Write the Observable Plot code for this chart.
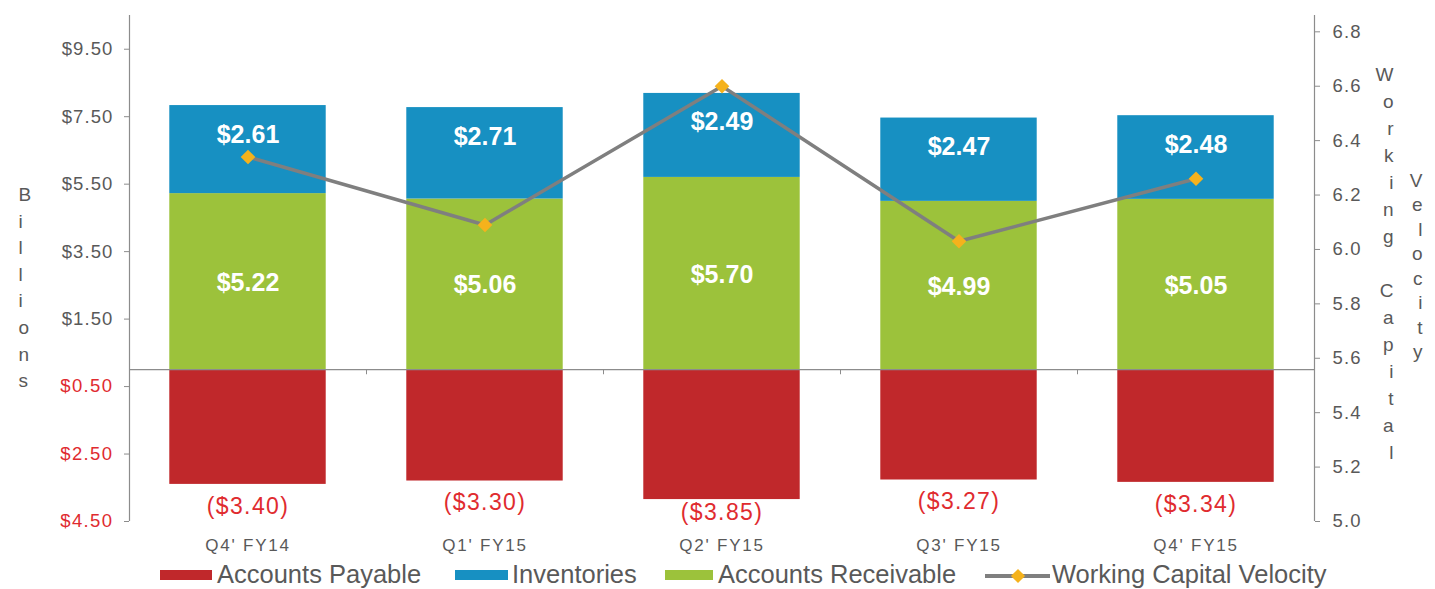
<!DOCTYPE html>
<html><head><meta charset="utf-8">
<script src="https://cdn.jsdelivr.net/npm/d3@7"></script>
<script src="https://cdn.jsdelivr.net/npm/@observablehq/plot@0.6"></script>
<style>
body{margin:0;background:#fff;font-family:"Liberation Sans",Arial,sans-serif;}
#chart{width:1435px;height:589px;overflow:hidden;position:relative;background:#fff}
#legend{position:relative;height:29px;font-size:25.5px;color:#595959}
#legend .t{position:absolute;top:1px;line-height:26px;white-space:nowrap}
#legend .sw{position:absolute;top:10px;height:10px}
#legend .ln{position:absolute;top:14px;height:3.5px;background:#7f7f7f}
#legend .dm{position:absolute;top:10.5px;width:10px;height:10px;background:#f5b21c;transform:rotate(45deg)}
</style></head><body><div id="chart"></div>
<script>
// ---- data ----
const quarters = ["Q4' FY14", "Q1' FY15", "Q2' FY15", "Q3' FY15", "Q4' FY15"];
const accountsPayable = [-3.40, -3.30, -3.85, -3.27, -3.34];
const inventories = [2.61, 2.71, 2.49, 2.47, 2.48];
const accountsReceivable = [5.22, 5.06, 5.70, 4.99, 5.05];
const velocity = [6.34, 6.09, 6.60, 6.03, 6.26];
const leftTicksPos = [9.5, 7.5, 5.5, 3.5, 1.5];
const leftTicksNeg = [-0.5, -2.5, -4.5];
const rightTicks = [5.0, 5.2, 5.4, 5.6, 5.8, 6.0, 6.2, 6.4, 6.6, 6.8];
const leftDomain = [-4.5, 10.5];
const rightDomain = [5.0, 6.86];

// ---- styles ----
const C = {ap: "#c0282b", inv: "#1790c2", ar: "#9cc23b", line: "#7f7f7f", dot: "#f5b21c",
           axis: "#8c8c8c", text: "#595959", red: "#e02b2f"};
const halfBar = 0.33;

const toLeft = d3.scaleLinear().domain(rightDomain).range(leftDomain);
const xDomain = [-0.5, quarters.length - 0.5];

const segs = [];
quarters.forEach((q, i) => {
  segs.push({i, series: "ap", y1: 0, y2: accountsPayable[i]});
  segs.push({i, series: "ar", y1: 0, y2: accountsReceivable[i]});
  segs.push({i, series: "inv", y1: accountsReceivable[i], y2: accountsReceivable[i] + inventories[i]});
});
const rows = quarters.map((q, i) => ({i, q, ap: accountsPayable[i], inv: inventories[i], ar: accountsReceivable[i], v: velocity[i]}));
const money = d => "$" + Math.abs(d).toFixed(2);
const vert = s => s.split("").join("\n");

const plot = Plot.plot({
  width: 1435, height: 560,
  marginLeft: 129, marginRight: 121, marginTop: 15, marginBottom: 39,
  x: {domain: xDomain},
  y: {domain: leftDomain},
  style: {fontFamily: "Liberation Sans, Arial, sans-serif", background: "white", overflow: "visible"},
  marks: [
    Plot.rect(segs, {x1: d => d.i - halfBar, x2: d => d.i + halfBar, y1: "y1", y2: "y2", fill: d => C[d.series]}),
    Plot.ruleY([0], {stroke: C.axis, strokeWidth: 1.2}),
    Plot.ruleX(xDomain, {stroke: C.axis, strokeWidth: 1.2}),
    Plot.ruleX(d3.range(1, quarters.length).map(i => i - 0.5), {y1: 0, y2: -0.15, stroke: C.axis}),
    Plot.axisY(leftTicksPos, {anchor: "left", tickFormat: money, tickSize: 5, tickPadding: 11, fontSize: 18.5, fill: C.text, stroke: C.axis, label: null}),
    Plot.axisY(leftTicksNeg, {anchor: "left", tickFormat: money, tickSize: 5, tickPadding: 11, fontSize: 18.5, fill: C.red, stroke: C.axis, label: null}),
    Plot.axisY(rightTicks.map(toLeft), {anchor: "right", tickFormat: d => toLeft.invert(d).toFixed(1), tickSize: 5, tickPadding: 13, fontSize: 18.5, fill: C.text, stroke: C.axis, label: null}),
    Plot.axisX(d3.range(quarters.length), {anchor: "bottom", tickFormat: i => quarters[i], tickSize: 0, tickPadding: 17, fontSize: 17, fill: C.text, label: null}),
    Plot.line(rows, {x: "i", y: d => toLeft(d.v), stroke: C.line, strokeWidth: 3.5}),
    Plot.dot(rows, {x: "i", y: d => toLeft(d.v), symbol: "diamond2", r: 6.6, fill: C.dot}),
    Plot.text(rows, {x: "i", y: d => d.ar / 2, text: d => money(d.ar), fill: "white", fontWeight: "bold", fontSize: 25, dy: 1}),
    Plot.text(rows, {x: "i", y: d => d.ar + d.inv, text: d => money(d.inv), fill: "white", fontWeight: "bold", fontSize: 25, dy: 29}),
    Plot.text(rows, {x: "i", y: d => Math.max(d.ap - 0.65, -4.25), text: d => "(" + money(d.ap) + ")", fill: C.red, fontSize: 23}),
    Plot.text([vert("Billions")], {frameAnchor: "left", dx: -111, dy: 17, fontSize: 19, lineHeight: 26.6 / 19, fill: C.text}),
    Plot.text([vert("Working Capital")], {frameAnchor: "right", dx: 79, dy: -7, fontSize: 19, lineHeight: 27 / 19, fill: C.text}),
    Plot.text([vert("Velocity")], {frameAnchor: "right", dx: 108, dy: -4, fontSize: 19, lineHeight: 24.5 / 19, fill: C.text})
  ]
});
const svg = d3.select(plot);
svg.selectAll("g[aria-label='y-axis tick label'] text").style("letter-spacing", "1.1px");
svg.selectAll("g[aria-label='x-axis tick label'] text").style("letter-spacing", "1.8px");
svg.selectAll(`g[fill='${C.red}'] text`).style("letter-spacing", "1.4px");
document.getElementById("chart").appendChild(plot);

// ---- legend ----
const legendItems = [
  {label: "Accounts Payable", color: C.ap, sx: 160, sw: 52, tx: 217},
  {label: "Inventories", color: C.inv, sx: 455, sw: 53, tx: 512},
  {label: "Accounts Receivable", color: C.ar, sx: 665, sw: 48, tx: 718},
  {label: "Working Capital Velocity", line: true, sx: 985, sw: 65, tx: 1052}
];
const lg = document.createElement("div");
lg.id = "legend";
legendItems.forEach(it => {
  if (it.line) {
    const l = document.createElement("div"); l.className = "ln";
    l.style.left = it.sx + "px"; l.style.width = it.sw + "px"; lg.appendChild(l);
    const d = document.createElement("div"); d.className = "dm";
    d.style.left = (it.sx + it.sw / 2 - 5) + "px"; lg.appendChild(d);
  } else {
    const s = document.createElement("div"); s.className = "sw";
    s.style.left = it.sx + "px"; s.style.width = it.sw + "px"; s.style.background = it.color; lg.appendChild(s);
  }
  const t = document.createElement("span"); t.className = "t";
  t.style.left = it.tx + "px"; t.textContent = it.label; lg.appendChild(t);
});
document.getElementById("chart").appendChild(lg);
</script></body></html>
